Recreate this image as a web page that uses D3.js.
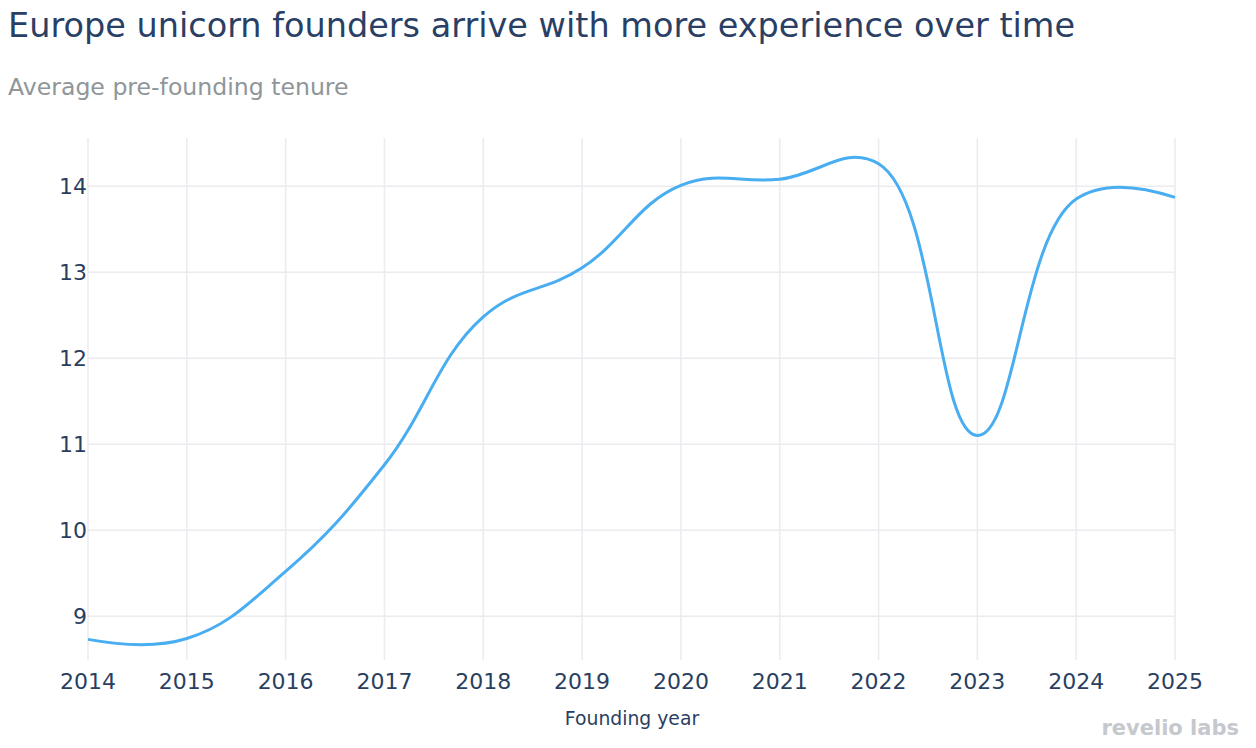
<!DOCTYPE html>
<html lang="en">
<head>
<meta charset="utf-8">
<title>Europe unicorn founders</title>
<script src="https://d3js.org/d3.v7.min.js"></script>
<style>
  body { margin: 0; background: #fff; }
  text { font-family: "DejaVu Sans", Verdana, sans-serif; }
</style>
</head>
<body>
<div id="chart"></div>
<script>
// founding year vs average pre-founding tenure (years)
var years = [2014, 2015, 2016, 2017, 2018, 2019, 2020, 2021, 2022, 2023, 2024, 2025]
var tenure = [8.73, 8.74, 9.52, 10.76, 12.48, 13.05, 14.01, 14.08, 14.26, 11.1, 13.85, 13.87]
var yTicks = [9, 10, 11, 12, 13, 14]

var width = 1256, height = 748
var margin = { top: 138, right: 81, bottom: 88, left: 88 }
var smoothing = 1.2

var svg = d3.select("#chart").append("svg")
    .attr("width", width)
    .attr("height", height)

var x = d3.scaleLinear().domain([2014, 2025]).range([margin.left, width - margin.right])
var y = d3.scaleLinear().domain([8.49, 14.56]).range([height - margin.bottom, margin.top])

// grid
svg.append("g").selectAll("line").data(years).enter().append("line")
    .attr("x1", d => x(d)).attr("x2", d => x(d))
    .attr("y1", margin.top).attr("y2", height - margin.bottom)
    .attr("stroke", "#ebebf0").attr("stroke-width", 1.5)

svg.append("g").selectAll("line").data(yTicks).enter().append("line")
    .attr("x1", margin.left).attr("x2", width - margin.right)
    .attr("y1", d => y(d)).attr("y2", d => y(d))
    .attr("stroke", "#ebebf0").attr("stroke-width", 1.5)

// axes labels
svg.append("g").selectAll("text").data(years).enter().append("text")
    .attr("x", d => x(d)).attr("y", 689)
    .attr("text-anchor", "middle")
    .attr("fill", "#2a3f5f").style("font-size", "22px")
    .text(d => d)

svg.append("g").selectAll("text").data(yTicks).enter().append("text")
    .attr("x", margin.left - 1).attr("y", d => y(d) + 8)
    .attr("text-anchor", "end")
    .attr("fill", "#2a3f5f").style("font-size", "22px")
    .text(d => d)

svg.append("text")
    .attr("x", 632).attr("y", 725)
    .attr("text-anchor", "middle")
    .attr("fill", "#2a3f5f").style("font-size", "18.8px")
    .text("Founding year")

// plotly-style spline (centripetal catmull-rom, quadratic end segments)
function tangent(p0, p1, p2, s) {
    var d1x = p0[0] - p1[0], d1y = p0[1] - p1[1]
    var d2x = p2[0] - p1[0], d2y = p2[1] - p1[1]
    var d1a = Math.pow(d1x * d1x + d1y * d1y, 0.25)
    var d2a = Math.pow(d2x * d2x + d2y * d2y, 0.25)
    var nx = (d2a * d2a * d1x - d1a * d1a * d2x) * s
    var ny = (d2a * d2a * d1y - d1a * d1a * d2y) * s
    var den1 = 3 * d2a * (d1a + d2a), den2 = 3 * d1a * (d1a + d2a)
    return [[p1[0] + nx / den1, p1[1] + ny / den1], [p1[0] - nx / den2, p1[1] - ny / den2]]
}

function spline(pts, s) {
    var p = d3.path(), t = [], i
    for (i = 1; i < pts.length - 1; i++) t.push(tangent(pts[i - 1], pts[i], pts[i + 1], s))
    p.moveTo(pts[0][0], pts[0][1])
    p.quadraticCurveTo(t[0][0][0], t[0][0][1], pts[1][0], pts[1][1])
    for (i = 2; i < pts.length - 1; i++) {
        p.bezierCurveTo(t[i - 2][1][0], t[i - 2][1][1], t[i - 1][0][0], t[i - 1][0][1], pts[i][0], pts[i][1])
    }
    var last = t[pts.length - 3][1]
    p.quadraticCurveTo(last[0], last[1], pts[pts.length - 1][0], pts[pts.length - 1][1])
    return p.toString()
}

var pts = years.map((d, i) => [x(d), y(tenure[i])])

svg.append("path")
    .attr("d", spline(pts, smoothing))
    .attr("fill", "none")
    .attr("stroke", "#48adf1")
    .attr("stroke-width", 3)

// titles
svg.append("text")
    .attr("x", 8).attr("y", 37)
    .attr("fill", "#2a3f66").style("font-size", "33.5px")
    .text("Europe unicorn founders arrive with more experience over time")

svg.append("text")
    .attr("x", 8).attr("y", 95)
    .attr("fill", "#8f9699").style("font-size", "23.6px")
    .text("Average pre-founding tenure")

// logo
svg.append("text")
    .attr("x", 1239).attr("y", 735)
    .attr("text-anchor", "end")
    .attr("fill", "#c5c8cc").style("font-size", "21px").style("font-weight", "bold")
    .text("revelio labs")
</script>
</body>
</html>
